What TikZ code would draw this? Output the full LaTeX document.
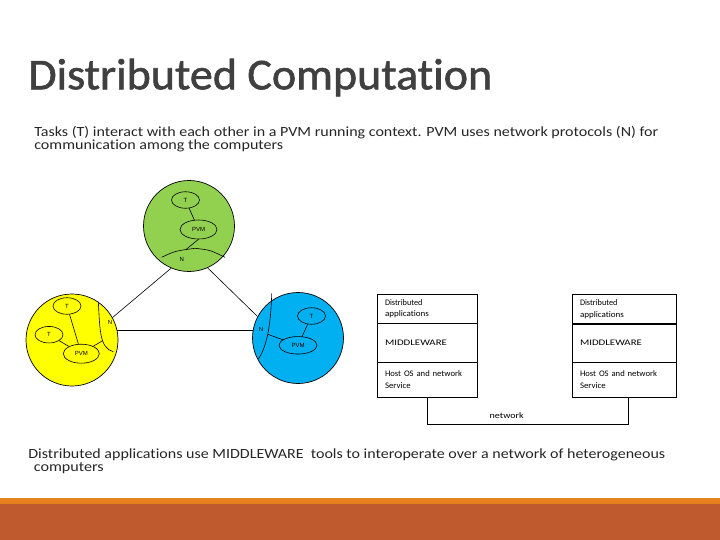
\documentclass[tikz,border=0pt]{standalone}
\usepackage{fontspec}
\usepackage{graphicx}
\setmainfont{Carlito}[Ligatures=NoCommon]
\newfontfamily\titlefont{Carlito}[Ligatures=NoCommon,FakeBold=1.3]
\newfontfamily\arialf{Liberation Sans}
\usetikzlibrary{shapes.geometric}
\newcommand{\fitw}[2]{\resizebox{#1}{\height}{#2}}
\definecolor{titlegray}{HTML}{404040}
\definecolor{textgray}{HTML}{262626}
\definecolor{barorange}{HTML}{E6821E}
\definecolor{barred}{HTML}{BE5A2E}
\definecolor{gcol}{HTML}{92D050}
\definecolor{bcol}{HTML}{00B0F0}
\definecolor{ycol}{HTML}{FFFF00}
\tikzset{
  comp/.style={circle, draw, inner sep=0pt, line width=0.7pt},
  task/.style={ellipse, draw, inner sep=0pt, minimum width=28pt, minimum height=16.5pt, font=\arialf\fontsize{6}{6}\selectfont},
  pvm/.style={ellipse, draw, inner sep=0pt, minimum width=37pt, minimum height=19pt, font=\arialf\fontsize{6}{6}\selectfont},
  lbl/.style={inner sep=0pt, font=\arialf\fontsize{6}{6}\selectfont},
  cell/.style={rectangle, draw, anchor=north west, inner xsep=8pt, inner ysep=0pt, align=left, font=\fontsize{8.5}{11.7}\selectfont},
  slidetext/.style={anchor=base west, inner sep=0pt, text=textgray},
}
\begin{document}
\begin{tikzpicture}[x=1pt,y=-1pt,line width=0.6pt]
\useasboundingbox (0,0) rectangle (720,540);
\fill[white] (0,0) rectangle (720,540);
\fill[barorange] (0,498) rectangle (720,504);
\fill[barred] (0,504) rectangle (720,540);

% title and texts
\node[anchor=base west, inner sep=0pt, text=titlegray, font=\titlefont\fontsize{44}{44}\selectfont] (title) at (28,89.3) {\fitw{464pt}{Distributed Computation}};
\node[slidetext, font=\fontsize{14}{14}\selectfont] (sub1) at (34,136.8) {\fitw{624pt}{Tasks (T) interact with each other in a PVM running context. PVM uses network protocols (N) for}};
\node[slidetext, font=\fontsize{14}{14}\selectfont] (sub2) at (34,149.5) {\fitw{249pt}{communication among the computers}};
\node[slidetext, font=\fontsize{14}{14}\selectfont] (bot1) at (28,458.5) {\fitw{637pt}{Distributed applications use MIDDLEWARE\ \ tools to interoperate over a network of heterogeneous}};
\node[slidetext, font=\fontsize{14}{14}\selectfont] (bot2) at (33.5,471.5) {\fitw{70pt}{computers}};

% green computer
\node[comp, fill=gcol, minimum size=91pt] (green) at (189,226) {};
\node[task] (gT) at (185.5,200) {T};
\node[pvm] (gP) at (198.5,229.5) {PVM};
\draw (gT) -- (gP);
\draw (161.7,257.3) .. controls (175,251) .. (195,248.3) coordinate[pos=0.82] (gNj) .. controls (210,250) .. (225,257.3);
\draw (gP.south) -- (gNj);
\node[lbl] (gN) at (181.7,259.5) {N};

% yellow computer
\node[comp, fill=ycol, minimum size=92pt] (yellow) at (72,340) {};
\node[task] (yT1) at (67,306) {T};
\node[task] (yT2) at (49,334.7) {T};
\node[pvm, minimum width=36pt] (yP) at (81.3,353.7) {PVM};
\draw (yT1) -- (yP);
\draw (yT2) -- (yP);
\draw (98.3,301.7) .. controls (100,330) and (99.5,348) .. (113.3,351.7) coordinate[pos=0.6] (yNj);
\draw (yP) -- (yNj);
\node[lbl] (yN) at (110,322.3) {N};

% blue computer
\node[comp, fill=bcol, minimum size=91pt] (blue) at (298,338) {};
\node[task] (bT) at (311.5,316) {T};
\node[pvm, minimum width=38pt, minimum height=17.5pt] (bP) at (298,345.3) {PVM};
\draw (bT) -- (bP);
\draw (271.7,293.3) .. controls (271,320) and (268,345) .. (258.3,359) coordinate[pos=0.55] (bNj);
\draw (bNj) -- (bP);
\node[lbl] (bN) at (261,329.5) {N};

% network links between computers
\draw (green.247.8) -- (yellow.29);
\draw (green.294.8) -- (blue.152.8);
\draw (yellow.12) -- (yellow.12 -| blue.169);

% layered boxes
\node[cell, minimum width=100.6pt, minimum height=28.4pt, text width=84.6pt] (lapp) at (376.7,294.3) {\fitw{37.5pt}{Distributed}\\\fitw{44pt}{applications}};
\node[cell, minimum width=100.6pt, minimum height=38.3pt, text width=84.6pt] (lmid) at (lapp.south west) {\fitw{62pt}{MIDDLEWARE}};
\node[cell, minimum width=100.6pt, minimum height=34.4pt, text width=84.6pt] (lhost) at (lmid.south west) {\fitw{77pt}{Host OS and network}\\\fitw{25.7pt}{Service}\\[3pt]};

\node[cell, minimum width=104.3pt, minimum height=29pt, text width=88.3pt] (rapp) at (571.7,294.3) {\fitw{37.5pt}{Distributed}\\\fitw{44pt}{applications}};
\node[cell, minimum width=104.3pt, minimum height=37.7pt, text width=88.3pt] (rmid) at (rapp.south west) {\fitw{62pt}{MIDDLEWARE}};
\node[cell, minimum width=104.3pt, minimum height=34.7pt, text width=88.3pt] (rhost) at (rmid.south west) {\fitw{77pt}{Host OS and network}\\\fitw{25.7pt}{Service}\\[3pt]};

\draw (lhost.south) -- ++(0,27.3) coordinate (netc) -| ([xshift=4.4pt]rhost.south);
\node[inner sep=0pt, font=\fontsize{8.5}{8.5}\selectfont] (net) at (506.7,415.5) {\fitw{34pt}{network}};
\end{tikzpicture}
\end{document}
